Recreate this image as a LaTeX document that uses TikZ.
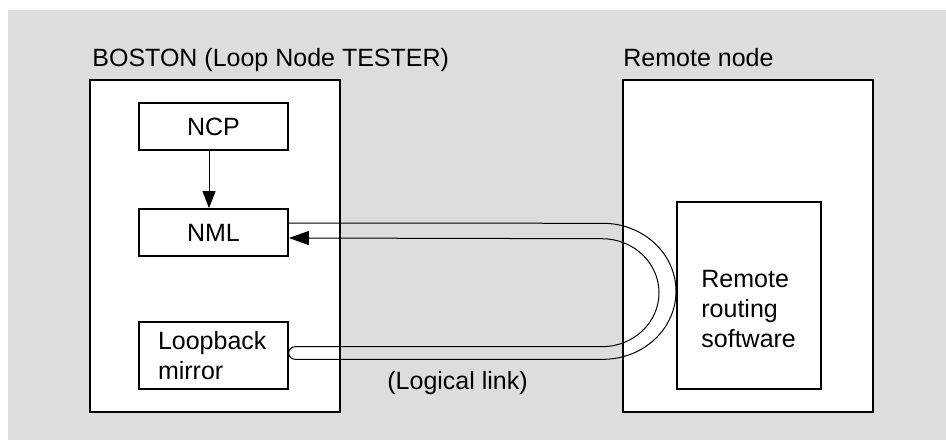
\documentclass[tikz,border=0pt]{standalone}
\usepackage{fontspec}
\setmainfont{Liberation Sans}
\usetikzlibrary{arrows.meta}
\definecolor{bggray}{RGB}{221,221,221}

\begin{document}
\begin{tikzpicture}[x=0.5pt, y=-0.5pt,
    txt/.style={font=\fontsize{12.5}{15}\selectfont, inner sep=0pt},
    outerbox/.style={draw, line width=1pt, fill=white, minimum width=125pt, minimum height=166pt},
    unit/.style={draw, line width=0.9pt, fill=white, txt, minimum width=74.5pt, minimum height=23.5pt},
    link/.style={line width=0.5pt}]

  \useasboundingbox (0,0) rectangle (946,440);
  \fill[bggray] (8,10) rectangle (946,440);

  % the two systems
  \node[outerbox] (boston) at (215,246) {};
  \node[outerbox] (remote) at (748,246) {};
  \node[txt, anchor=base west] (bostonlbl) at (92,66) {BOSTON (Loop Node TESTER)};
  \node[txt, anchor=base west] (remotelbl) at (623,66) {Remote node};

  % inside BOSTON
  \node[unit] (ncp) at (213.5,126.5) {NCP};
  \node[unit] (nml) at (213.5,232.5) {NML};
  \node[unit, minimum height=33.5pt, text width=55.5pt, inner xsep=9.5pt, align=left] (mirror) at (213.5,355.5) {Loopback\\mirror};
  \draw[link, -{Triangle[length=8.5pt, width=6.5pt]}] ([xshift=-2.25pt]ncp.south) -- ([xshift=-2.25pt]nml.north);

  % inside remote node
  \node[unit, minimum width=72pt, minimum height=93.5pt] (routing) at (749,295.5) {};
  \node[txt, anchor=north west, align=left] (routingtxt) at (701,270) {Remote\\routing\\software};

  % logical link, out of NML, round the mirror and back
  \draw[link, -{Triangle[length=10pt, width=7pt]}] ([yshift=4.75pt]nml.east) -- (603,223.3)
      arc[start angle=90, end angle=-90, x radius=36.5pt, y radius=34pt] -- (295,359.3)
      arc[start angle=270, end angle=90, radius=3.15pt] -- (602,346.7)
      arc[start angle=-90, end angle=90, x radius=28.5pt, y radius=27pt] -- ([yshift=-2.75pt]nml.east);
  \node[txt, anchor=base west] (linklbl) at (387,389) {(Logical link)};
\end{tikzpicture}
\end{document}
